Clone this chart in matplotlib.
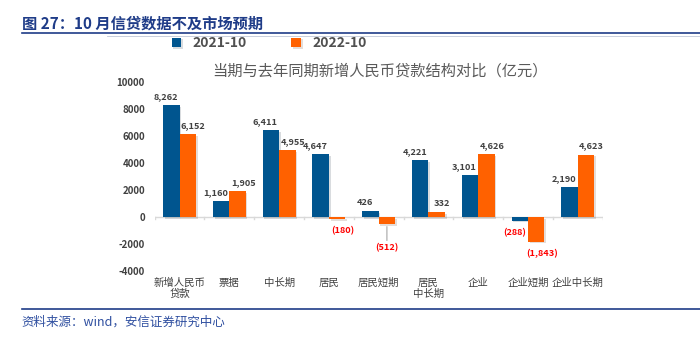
import matplotlib
matplotlib.use('Agg')
import numpy as np
from matplotlib import pyplot as plt
from matplotlib import patheffects as pe

plt.rcParams['font.family'] = ['Noto Sans CJK SC', 'DejaVu Sans']

# 数据
categories = ['新增人民币\n贷款', '票据', '中长期', '居民', '居民短期', '居民\n中长期', '企业', '企业短期', '企业中长期']
v2021 = [8262, 1160, 6411, 4647, 426, 4221, 3101, -288, 2190]
v2022 = [6152, 1905, 4955, -180, -512, 332, 4626, -1843, 4623]
yticks = [-4000, -2000, 0, 2000, 4000, 6000, 8000, 10000]

blue = '#00558F'
orange = '#FF6100'

fig = plt.figure(figsize=(7, 3.37), dpi=100)
ax = fig.add_axes([0.221, 0.196, 0.64, 0.561])

x = np.arange(len(categories))
w = 0.33
shadow = [pe.SimplePatchShadow(offset=(1.2, -1.2), alpha=0.15), pe.Normal()]
b1 = ax.bar(x - w / 2, v2021, w, color=blue, label='2021-10', path_effects=shadow, zorder=3)
b2 = ax.bar(x + w / 2, v2022, w, color=orange, label='2022-10', path_effects=shadow, zorder=3)

ax.set_xlim(-0.5, len(categories) - 0.5)
ax.set_ylim(-4000, 10000)
ax.set_yticks(yticks)
ax.set_yticklabels([str(t) for t in yticks], fontsize=7, color='#404040', fontweight='bold')
ax.tick_params(axis='y', length=0, pad=7)
ax.set_xticks(x)
ax.set_xticklabels(categories, fontsize=7.5, color='#404040', linespacing=1.1)
ax.tick_params(axis='x', length=0, pad=5)
for s in ax.spines.values():
    s.set_visible(False)
ax.axhline(0, color='#D9D9D9', lw=1, zorder=2)
for b in np.arange(-0.5, len(categories), 1.0):
    ax.plot([b, b], [0, -180], color='#D9D9D9', lw=1, zorder=2)


def fmt(v):
    return '{:,}'.format(v) if v >= 0 else '({:,})'.format(-v)


# 数值标签
for i in range(len(categories)):
    for v, dx, sx in ((v2021[i], -w / 2, -4), (v2022[i], w / 2, 4)):
        if v >= 0:
            ax.annotate(fmt(v), (x[i] + dx, v), xytext=(sx, 3), textcoords='offset points',
                        ha='center', va='bottom', fontsize=6.6, fontweight='bold', color='#404040')
        elif v == -512:
            ax.annotate(fmt(v), (x[i] + dx, v), xytext=(0, -14), textcoords='offset points',
                        ha='center', va='top', fontsize=6.6, fontweight='bold', color='#FF0000',
                        arrowprops=dict(arrowstyle='-', color='#A6A6A6', lw=0.8,
                                        shrinkA=0, shrinkB=2))
        else:
            ax.annotate(fmt(v), (x[i] + dx, v), xytext=(sx, -5), textcoords='offset points',
                        ha='center', va='top', fontsize=6.6, fontweight='bold', color='#FF0000')

ax.legend(loc='lower left', bbox_to_anchor=(0.01, 1.1), ncol=2, frameon=False,
          handlelength=0.7, handleheight=0.7, columnspacing=3.2,
          prop={'weight': 'bold', 'size': 10}, labelcolor='#505050')
fig.text(0.543, 0.79, '当期与去年同期新增人民币贷款结构对比（亿元）', ha='center', va='center',
         fontsize=11, color='#595959')

fig.text(0.031, 0.93, '图 27：10 月信贷数据不及市场预期', ha='left', va='center',
         fontsize=11, fontweight='bold', color='#1F3C88')
fig.add_artist(plt.Line2D([0.031, 1.0], [0.902, 0.902], color='#1F3C88', lw=1.2))
fig.add_artist(plt.Line2D([0.153, 1.0], [0.893, 0.893], color='#C0C8D8', lw=0.6))
fig.add_artist(plt.Line2D([0.031, 1.0], [0.083, 0.083], color='#1F3C88', lw=1.2))
fig.text(0.031, 0.045, '资料来源：wind，安信证券研究中心', ha='left', va='center',
         fontsize=9, color='#2F4FA0', style='italic')

fig.savefig('out.png', dpi=100)
